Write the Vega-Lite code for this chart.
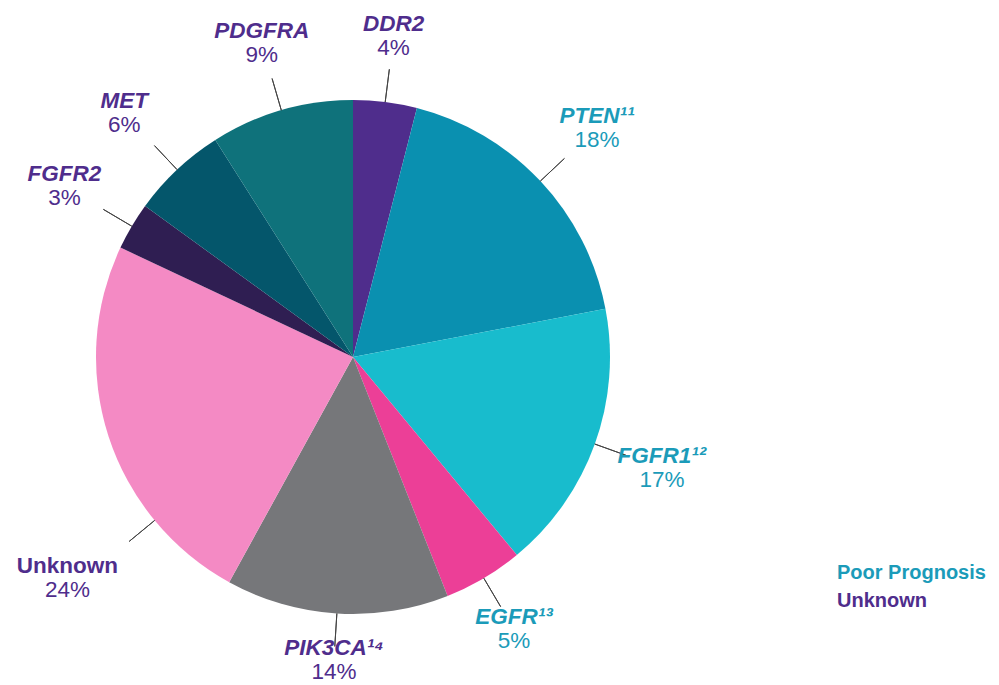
{
  "$schema": "https://vega.github.io/schema/vega-lite/v6.json",
  "width": 706,
  "height": 640,
  "autosize": {"type": "none"},
  "padding": {"left": 0, "top": 37, "right": 293, "bottom": 8},
  "background": "white",
  "config": {"view": {"stroke": null}, "font": "Liberation Sans"},
  "data": {
    "values": [
      {"gene": "DDR2", "label": "DDR2", "share": 0.04, "group": "Unknown", "seq": 1},
      {"gene": "PTEN", "label": "PTEN¹¹", "share": 0.18, "group": "Poor Prognosis", "seq": 2},
      {"gene": "FGFR1", "label": "FGFR1¹²", "share": 0.17, "group": "Poor Prognosis", "seq": 3},
      {"gene": "EGFR", "label": "EGFR¹³", "share": 0.05, "group": "Poor Prognosis", "seq": 4},
      {"gene": "PIK3CA", "label": "PIK3CA¹⁴", "share": 0.14, "group": "Unknown", "seq": 5},
      {"gene": "Unknown", "label": "Unknown", "share": 0.24, "group": "Unknown", "seq": 6},
      {"gene": "FGFR2", "label": "FGFR2", "share": 0.03, "group": "Unknown", "seq": 7},
      {"gene": "MET", "label": "MET", "share": 0.06, "group": "Unknown", "seq": 8},
      {"gene": "PDGFRA", "label": "PDGFRA", "share": 0.09, "group": "Unknown", "seq": 9}
    ]
  },
  "encoding": {
    "theta": {"field": "share", "type": "quantitative", "stack": true},
    "order": {"field": "seq", "type": "quantitative"}
  },
  "layer": [
    {
      "mark": {"type": "arc", "radius": 257},
      "encoding": {
        "color": {
          "field": "gene",
          "type": "nominal",
          "scale": {
            "domain": ["DDR2", "PTEN", "FGFR1", "EGFR", "PIK3CA", "Unknown", "FGFR2", "MET", "PDGFRA"],
            "range": ["#4f2d8c", "#0a90b0", "#18bccd", "#ec3f97", "#76777a", "#f48ac4", "#2f1e52", "#04566b", "#0f727b"]
          },
          "legend": null
        }
      }
    },
    {
      "mark": {
        "type": "arc",
        "radius": 290,
        "radius2": 257,
        "padAngle": 3,
        "filled": false,
        "stroke": "#444444",
        "strokeWidth": 1,
        "thetaOffset": {"expr": "datum.gene === 'Unknown' ? -0.375 : 0"},
        "theta2Offset": {"expr": "datum.gene === 'Unknown' ? -0.375 : 0"}
      },
      "encoding": {}
    },
    {
      "encoding": {
        "color": {
          "field": "group",
          "type": "nominal",
          "scale": {"domain": ["Poor Prognosis", "Unknown"], "range": ["#1b9bb9", "#4f2d8c"]},
          "legend": {
            "orient": "none",
            "legendX": 817,
            "legendY": 526,
            "title": null,
            "symbolSize": 0,
            "symbolOpacity": 0,
            "symbolStrokeWidth": 0,
            "labelOffset": 0,
            "labelFontSize": 20,
            "labelFont": "Liberation Sans",
            "labelFontWeight": "bold",
            "rowPadding": 8,
            "padding": 0,
            "encode": {
              "labels": {
                "update": {
                  "fill": {"signal": "datum.value === 'Poor Prognosis' ? '#1b9bb9' : '#4f2d8c'"}
                }
              }
            }
          }
        }
      },
      "layer": [
        {
          "mark": {
            "type": "text",
            "font": "Liberation Sans",
            "fontSize": 22.5,
            "fontWeight": "bold",
            "fontStyle": {"expr": "datum.gene === 'Unknown' ? 'normal' : 'italic'"},
            "baseline": "middle",
            "align": "center",
            "radius": {"expr": "302 + 28*abs(sin(PI*(datum.share_start+datum.share_end))) + 18*max(cos(PI*(datum.share_start+datum.share_end)),0)"},
            "dx": {"expr": "datum.gene === 'Unknown' ? 27 : 0"},
            "dy": {"expr": "datum.gene === 'Unknown' ? 107 : -12"}
          },
          "encoding": {"text": {"field": "label", "type": "nominal"}}
        },
        {
          "mark": {
            "type": "text",
            "font": "Liberation Sans",
            "fontSize": 22.5,
            "baseline": "middle",
            "align": "center",
            "radius": {"expr": "302 + 28*abs(sin(PI*(datum.share_start+datum.share_end))) + 18*max(cos(PI*(datum.share_start+datum.share_end)),0)"},
            "dx": {"expr": "datum.gene === 'Unknown' ? 27 : 0"},
            "dy": {"expr": "datum.gene === 'Unknown' ? 131 : 12"}
          },
          "encoding": {"text": {"field": "share", "type": "quantitative", "format": ".0%"}}
        }
      ]
    }
  ],
  "resolve": {"scale": {"color": "independent"}}
}
